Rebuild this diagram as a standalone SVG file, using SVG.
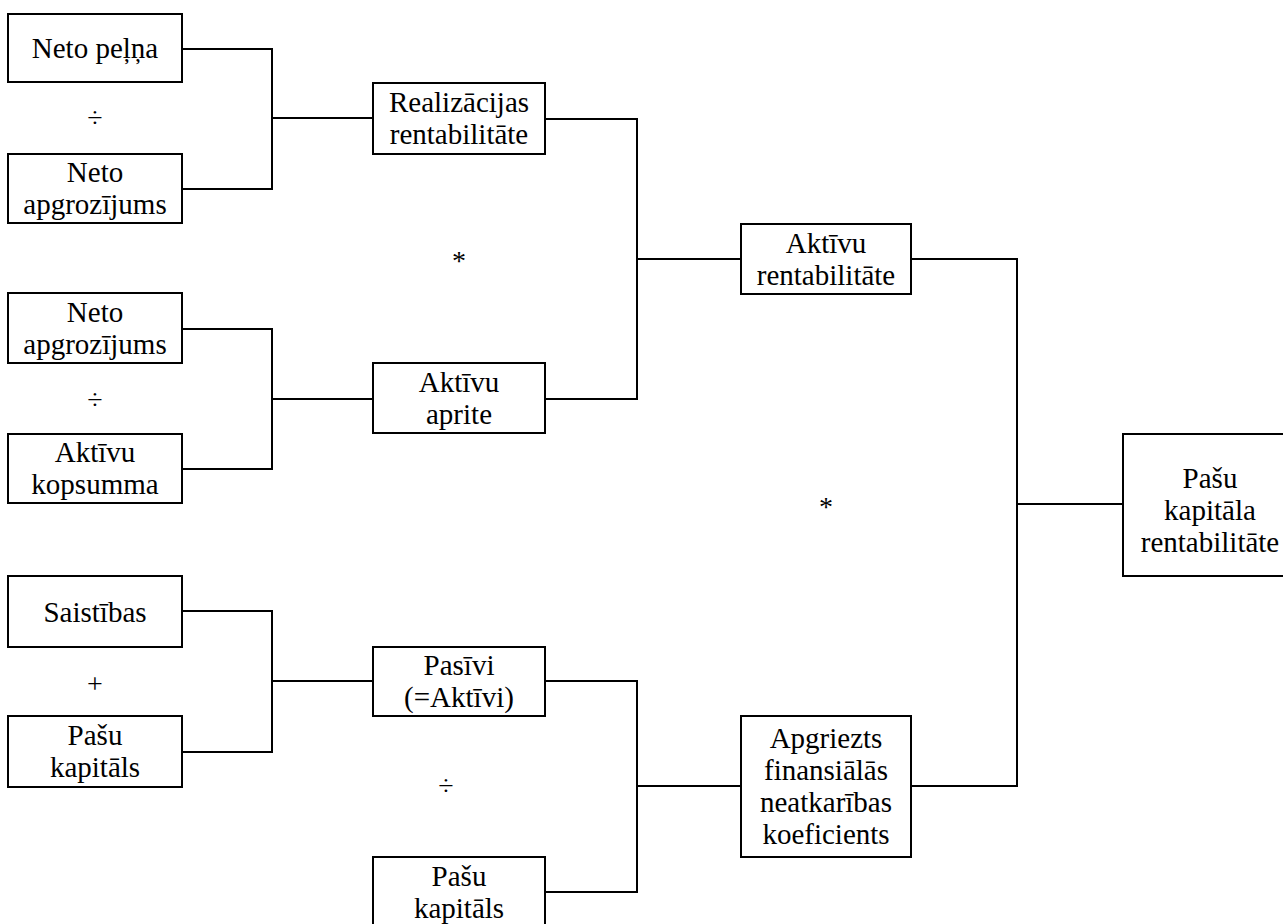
<svg xmlns="http://www.w3.org/2000/svg" width="1283" height="924" viewBox="0 0 1283 924">
<style>
.box{fill:#fff;stroke:#000;stroke-width:2}
.ln{fill:none;stroke:#000;stroke-width:2}
text{font-family:"Liberation Serif","Times New Roman",serif;font-size:29px;fill:#000;text-anchor:middle}
.op{font-size:28px}
</style>
<rect width="1283" height="924" fill="#fff"/>
<g id="connectors">
<path class="ln" d="M182,49 H272 V189 H182 M272,118 H373"/>
<path class="ln" d="M182,329 H272 V469 H182 M272,399 H373"/>
<path class="ln" d="M182,611 H272 V752 H182 M272,681 H373"/>
<path class="ln" d="M545,119 H637 V399 H545 M637,259 H741"/>
<path class="ln" d="M545,681 H637 V892 H545 M637,786 H741"/>
<path class="ln" d="M911,259 H1017 V786 H911 M1017,504 H1123"/>
</g>
<g id="operators">
<text class="op" x="95" y="127">÷</text>
<text class="op" x="95" y="409">÷</text>
<text class="op" x="95" y="693">+</text>
<text class="op" x="459" y="270">*</text>
<text class="op" x="446" y="795">÷</text>
<text class="op" x="826" y="516">*</text>
</g>
<g id="n_neto_pelna">
<rect class="box" x="8" y="14" width="174" height="68"/>
<text x="95" y="58">Neto peļņa</text>
</g>
<g id="n_neto_apgr1">
<rect class="box" x="8" y="154" width="174" height="69"/>
<text x="95" y="182">Neto</text>
<text x="95" y="214">apgrozījums</text>
</g>
<g id="n_neto_apgr2">
<rect class="box" x="8" y="293" width="174" height="70"/>
<text x="95" y="322">Neto</text>
<text x="95" y="354">apgrozījums</text>
</g>
<g id="n_aktivu_kopsumma">
<rect class="box" x="8" y="434" width="174" height="69"/>
<text x="95" y="462">Aktīvu</text>
<text x="95" y="494">kopsumma</text>
</g>
<g id="n_saistibas">
<rect class="box" x="8" y="576" width="174" height="71"/>
<text x="95" y="622">Saistības</text>
</g>
<g id="n_pasu_kapitals1">
<rect class="box" x="8" y="716" width="174" height="71"/>
<text x="95" y="745">Pašu</text>
<text x="95" y="777">kapitāls</text>
</g>
<g id="n_realizacijas">
<rect class="box" x="373" y="83" width="172" height="71"/>
<text x="459" y="112">Realizācijas</text>
<text x="459" y="144">rentabilitāte</text>
</g>
<g id="n_aktivu_aprite">
<rect class="box" x="373" y="363" width="172" height="70"/>
<text x="459" y="392">Aktīvu</text>
<text x="459" y="424">aprite</text>
</g>
<g id="n_pasivi">
<rect class="box" x="373" y="647" width="172" height="69"/>
<text x="459" y="675">Pasīvi</text>
<text x="459" y="707">(=Aktīvi)</text>
</g>
<g id="n_pasu_kapitals2">
<rect class="box" x="373" y="857" width="172" height="72"/>
<text x="459" y="886">Pašu</text>
<text x="459" y="918">kapitāls</text>
</g>
<g id="n_aktivu_rent">
<rect class="box" x="741" y="224" width="170" height="70"/>
<text x="826" y="253">Aktīvu</text>
<text x="826" y="285">rentabilitāte</text>
</g>
<g id="n_apgriezts">
<rect class="box" x="741" y="716" width="170" height="141"/>
<text x="826" y="748">Apgriezts</text>
<text x="826" y="780">finansiālās</text>
<text x="826" y="812">neatkarības</text>
<text x="826" y="844">koeficients</text>
</g>
<g id="n_pasu_kapitala_rent">
<rect class="box" x="1123" y="434" width="174" height="142"/>
<text x="1210" y="488">Pašu</text>
<text x="1210" y="520">kapitāla</text>
<text x="1210" y="552">rentabilitāte</text>
</g>
</svg>
